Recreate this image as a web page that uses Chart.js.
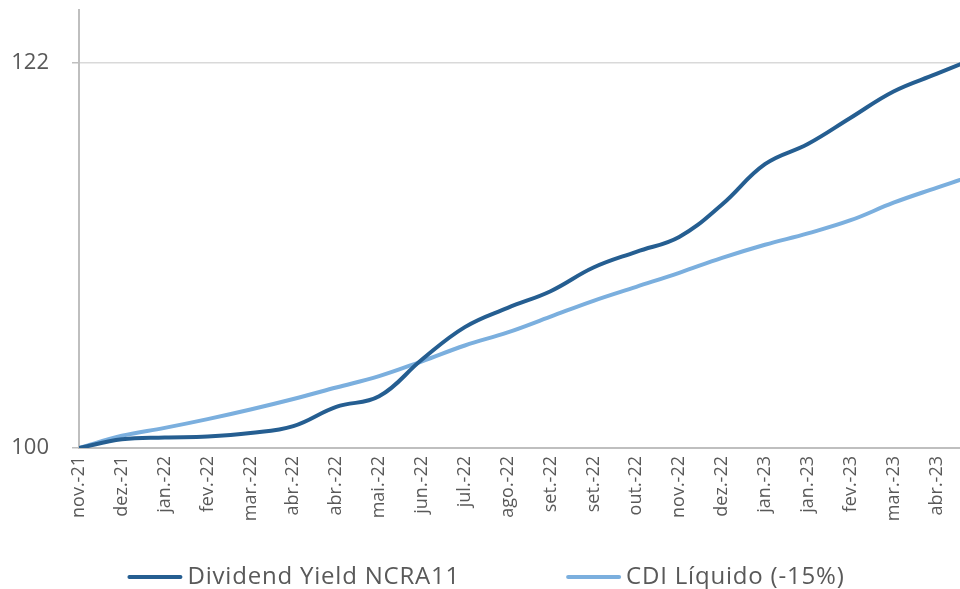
<!DOCTYPE html>
<html>
<head>
<meta charset="utf-8">
<script src="https://cdn.jsdelivr.net/npm/chart.js@4.4.1/dist/chart.umd.min.js"></script>
<style>
  html, body { margin: 0; background: #fff; }
  #wrap { width: 960px; height: 589px; }
</style>
</head>
<body>
<div id="wrap"><canvas id="grafico"></canvas></div>
<script>
// Rótulos do eixo X (como aparecem no gráfico original)
const tickLabels = ['nov.-21', 'dez.-21', 'jan.-22', 'fev.-22', 'mar.-22', 'abr.-22', 'abr.-22',
    'mai.-22', 'jun.-22', 'jul.-22', 'ago.-22', 'set.-22', 'set.-22', 'out.-22', 'nov.-22',
    'dez.-22', 'jan.-23', 'jan.-23', 'fev.-23', 'mar.-23', 'abr.-23'];

// posição de cada ponto (em períodos); o último fica um pouco depois de abr.-23
const pointPos = [0, 1, 2, 3, 4, 5, 6, 7, 8, 9, 10, 11, 12, 13, 14, 15, 16, 17, 18, 19, 20, 20.55];

// Séries (base 100)
const dividendYield = [100, 100.5, 100.6, 100.65, 100.85, 101.25, 102.35, 102.95, 105.05, 106.9, 108.0,
    108.95, 110.3, 111.2, 112.05, 113.9, 116.2, 117.35, 118.85, 120.35, 121.35, 121.9];
const cdiLiquido = [100, 100.7, 101.15, 101.65, 102.2, 102.8, 103.45, 104.1, 104.95, 105.85, 106.6,
    107.5, 108.4, 109.2, 110.0, 110.85, 111.6, 112.25, 113.0, 114.0, 114.85, 115.3];

const yTicks = [100, 122];

const FONTE = "'Open Sans', sans-serif";
Chart.defaults.font.family = FONTE;
Chart.defaults.color = '#595959';

const toPoints = (vals) => vals.map((v, i) => ({ x: pointPos[i], y: v }));

// Legenda desenhada à mão (linha + texto), centralizada embaixo
const legendaPlugin = {
    id: 'legenda',
    afterDraw(chart) {
        const ctx = chart.ctx;
        const itens = chart.data.datasets;
        const linha = 55, gap = 5, espaco = 106;
        ctx.save();
        ctx.font = '24px ' + FONTE;
        ctx.letterSpacing = '0.8px';
        const larguras = itens.map((d) => linha + gap + ctx.measureText(d.label).width);
        const total = larguras.reduce((a, b) => a + b, 0) + espaco * (itens.length - 1);
        let x = (chart.width - total) / 2 + 6;
        const y = 577;
        itens.forEach((d, i) => {
            ctx.strokeStyle = d.borderColor;
            ctx.lineWidth = 4;
            ctx.lineCap = 'round';
            ctx.beginPath();
            ctx.moveTo(x + 2, y);
            ctx.lineTo(x + linha - 2, y);
            ctx.stroke();
            ctx.fillStyle = '#595959';
            ctx.textBaseline = 'middle';
            ctx.textAlign = 'left';
            ctx.fillText(d.label, x + linha + gap, y);
            x += larguras[i] + espaco;
        });
        ctx.restore();
    }
};

const config = {
    type: 'line',
    data: {
        datasets: [{
            label: 'Dividend Yield NCRA11',
            data: toPoints(dividendYield),
            borderColor: '#255E91',
            backgroundColor: '#255E91',
            borderWidth: 4,
            borderCapStyle: 'round',
            pointRadius: 0,
            tension: 0.4
        }, {
            label: 'CDI Líquido (-15%)',
            data: toPoints(cdiLiquido),
            borderColor: '#7BAFDE',
            backgroundColor: '#7BAFDE',
            borderWidth: 4,
            borderCapStyle: 'round',
            pointRadius: 0,
            tension: 0.4
        }]
    },
    options: {
        responsive: true,
        maintainAspectRatio: false,
        animation: false,
        layout: { padding: { top: 10, right: 0, left: 0, bottom: 52 } },
        scales: {
            x: {
                type: 'linear',
                min: 0,
                max: pointPos[pointPos.length - 1],
                afterBuildTicks: (s) => { s.ticks = tickLabels.map((l, i) => ({ value: i })); },
                afterFit: (s) => { s.height = 89; s.paddingLeft = 0; s.paddingRight = 0; },
                ticks: {
                    autoSkip: false,
                    minRotation: 90,
                    maxRotation: 90,
                    padding: 8,
                    font: { size: 18 },
                    callback: (v) => tickLabels[v]
                },
                grid: { display: false, drawTicks: false },
                border: { color: '#BFBFBF', width: 2 }
            },
            y: {
                min: 100,
                max: 125,
                afterBuildTicks: (s) => { s.ticks = yTicks.map((v) => ({ value: v })); },
                afterFit: (s) => { s.width = 79; s.paddingTop = 0; s.paddingBottom = 0; },
                ticks: { font: { size: 22 }, padding: 23 },
                grid: { color: '#D9D9D9', lineWidth: 1.5, tickLength: 7, tickColor: '#BFBFBF' },
                border: { color: '#BFBFBF', width: 2 }
            }
        },
        plugins: {
            legend: { display: false },
            tooltip: { enabled: false }
        }
    },
    plugins: [legendaPlugin]
};

new Chart(document.getElementById('grafico'), config);
</script>
</body>
</html>
